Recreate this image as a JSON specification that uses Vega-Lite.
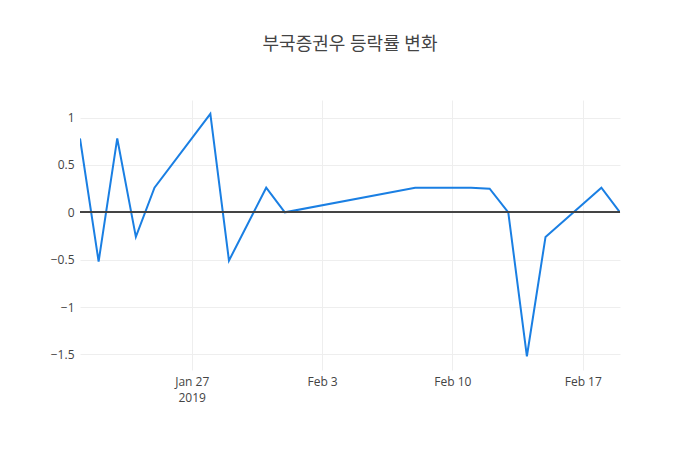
{
  "$schema": "https://vega.github.io/schema/vega-lite/v6.json",
  "width": 540,
  "height": 270,
  "autosize": {"type": "none"},
  "padding": {"left": 80, "top": 100, "right": 80, "bottom": 80},
  "background": "white",
  "title": {
    "text": "부국증권우 등락률 변화",
    "font": "Open Sans, Noto Sans CJK KR",
    "fontSize": 18,
    "fontWeight": "normal",
    "color": "#444",
    "anchor": "middle",
    "offset": 46
  },
  "data": {
    "values": [
      {"date": "2019-01-21", "rate": 0.78},
      {"date": "2019-01-22", "rate": -0.52},
      {"date": "2019-01-23", "rate": 0.78},
      {"date": "2019-01-24", "rate": -0.26},
      {"date": "2019-01-25", "rate": 0.26},
      {"date": "2019-01-28", "rate": 1.04},
      {"date": "2019-01-29", "rate": -0.51},
      {"date": "2019-01-31", "rate": 0.26},
      {"date": "2019-02-01", "rate": 0.0},
      {"date": "2019-02-08", "rate": 0.26},
      {"date": "2019-02-11", "rate": 0.26},
      {"date": "2019-02-12", "rate": 0.25},
      {"date": "2019-02-13", "rate": 0.0},
      {"date": "2019-02-14", "rate": -1.52},
      {"date": "2019-02-15", "rate": -0.26},
      {"date": "2019-02-18", "rate": 0.26},
      {"date": "2019-02-19", "rate": 0.0}
    ]
  },
  "config": {
    "view": {"stroke": null},
    "axis": {
      "labelFont": "Open Sans",
      "labelFontSize": 12,
      "labelColor": "#444",
      "grid": true,
      "gridColor": "#eee",
      "gridWidth": 1,
      "domain": false,
      "ticks": false,
      "title": null
    }
  },
  "layer": [
    {
      "mark": {"type": "line", "color": "#1a7fe3", "strokeWidth": 2, "clip": true},
      "encoding": {
        "x": {
          "field": "date",
          "type": "temporal",
          "scale": {"domain": [{"year": 2019, "month": 1, "date": 21}, {"year": 2019, "month": 2, "date": 19}], "nice": false},
          "axis": {
            "grid": true,
            "tickCount": {"interval": "week", "step": 1},
            "labelExpr": "timeFormat(datum.value, '%m%d') == '0127' ? [timeFormat(datum.value, '%b %-d'), '2019'] : timeFormat(datum.value, '%b %-d')",
            "labelPadding": 6,
            "labelLineHeight": 16,
            "labelFlush": false,
            "labelOverlap": false
          }
        },
        "y": {
          "field": "rate",
          "type": "quantitative",
          "scale": {"domain": [-1.665, 1.186], "nice": false, "zero": false},
          "axis": {
            "grid": true,
            "values": [-1.5, -1, -0.5, 0, 0.5, 1],
            "labelExpr": "replace(format(datum.value, ''), '-', '−')",
            "labelPadding": 6
          }
        }
      }
    },
    {
      "mark": {"type": "rule", "color": "#444", "strokeWidth": 1},
      "encoding": {"y": {"datum": 0, "type": "quantitative"}}
    }
  ]
}
